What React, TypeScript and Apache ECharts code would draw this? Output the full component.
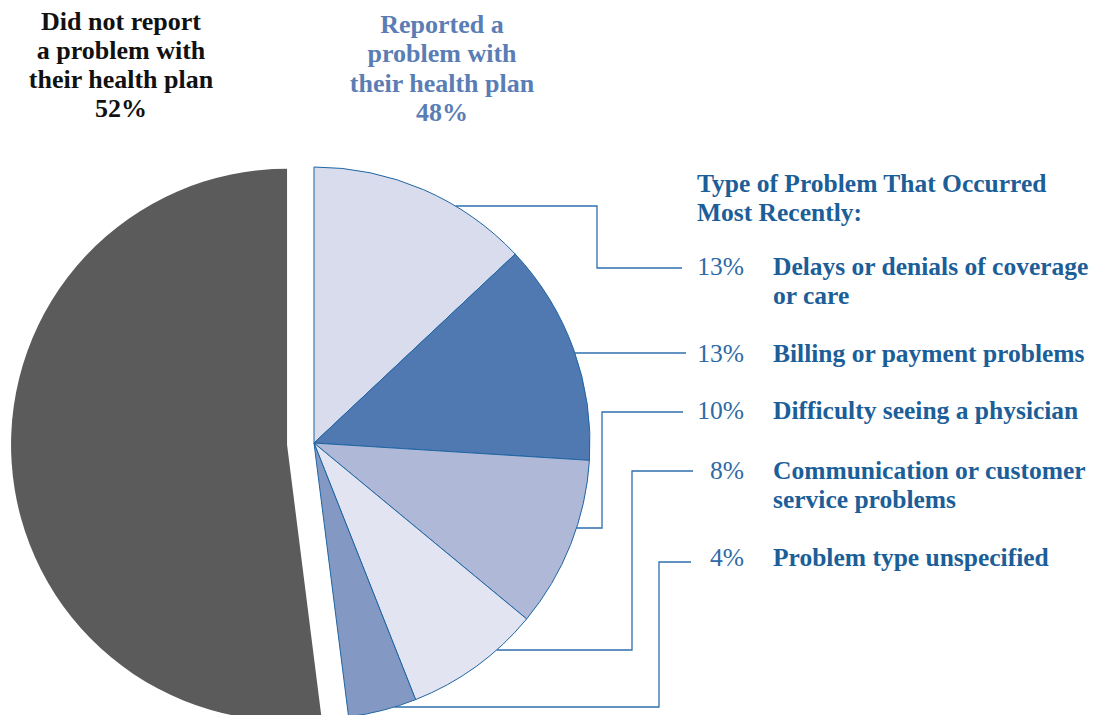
import React, { useEffect, useRef } from "react";
import * as echarts from "echarts";

// ---- data ----
const problemCategories = [
  "Delays or denials of coverage\nor care",
  "Billing or payment problems",
  "Difficulty seeing a physician",
  "Communication or customer\nservice problems",
  "Problem type unspecified",
];
const problemValues = [13, 13, 10, 8, 4];
const noProblemLabel = "Did not report\na problem with\ntheir health plan";
const noProblemValue = 52;
const problemLabel = "Reported a\nproblem with\ntheir health plan";
const problemTotal = 48;
const legendTitle = "Type of Problem That Occurred\nMost Recently:";

// ---- styles / layout ----
const sliceColors = ["#d9dcec", "#5079b1", "#afb8d7", "#e2e5f1", "#8399c3"];
const grayColor = "#5b5b5b";
const borderBlue = "#1f65a3";
const lineBlue = "#2f6fae";
const textBlue = "#1c5e98";
const pctBlue = "#2d6aa6";
const CX = 314, CY = 443, R = 276;
const FONT = "Liberation Serif";
// leader: y on pie edge, elbow x, label y, end x
const leaderLayout = [
  { y0: 206, xe: 597, y1: 268, x1: 682 },
  { y0: 353, xe: 597, y1: 353, x1: 686 },
  { y0: 528, xe: 602, y1: 412, x1: 683 },
  { y0: 650, xe: 632, y1: 471, x1: 693 },
  { y0: 707, xe: 659, y1: 562, x1: 691 },
];
const labelY = [266, 353.5, 410.5, 470, 557.5];

export default function App() {
  const ref = useRef<HTMLDivElement>(null);
  useEffect(() => {
    document.body.style.margin = "0";
    const chart = echarts.init(ref.current!, null, { renderer: "svg" });
    const data: any[] = problemValues.map((v, i) => ({
      name: problemCategories[i],
      value: v,
      itemStyle: { color: sliceColors[i], borderColor: borderBlue, borderWidth: 1 },
    }));
    data.push({
      name: "Did not report",
      value: noProblemValue,
      selected: true,
      itemStyle: { color: grayColor, borderWidth: 0 },
    });

    const graphics: any[] = [];
    const addText = (lines: string[], x: number, y: number, lh: number, align: string, fill: string, size: number, bold: boolean) => {
      lines.forEach((t, k) => {
        graphics.push({
          type: "text",
          x, y: y + k * lh,
          style: {
            text: t, fill, fontFamily: FONT, fontSize: size,
            fontWeight: bold ? "bold" : "normal", textAlign: align, textVerticalAlign: "middle",
          },
        });
      });
    };
    addText([...noProblemLabel.split("\n"), noProblemValue + "%"], 121, 21.5, 29, "center", "#111", 26, true);
    addText([...problemLabel.split("\n"), problemTotal + "%"], 442, 24.5, 29.3, "center", "#5a7db5", 26, true);
    addText(legendTitle.split("\n"), 697, 183.5, 28.5, "left", textBlue, 25.5, true);

    problemValues.forEach((v, i) => {
      const L = leaderLayout[i];
      const sx = CX + Math.sqrt(R * R - (L.y0 - CY) * (L.y0 - CY));
      const pts = L.y0 === L.y1
        ? [[sx, L.y0], [L.x1, L.y1]]
        : [[sx, L.y0], [L.xe, L.y0], [L.xe, L.y1], [L.x1, L.y1]];
      graphics.push({
        type: "polyline", silent: true, shape: { points: pts },
        style: { stroke: lineBlue, lineWidth: 1.3, fill: null },
      });
      addText([v + "%"], 744, labelY[i], 29, "right", pctBlue, 25.5, false);
      addText(problemCategories[i].split("\n"), 773, labelY[i], 29, "left", textBlue, 25.5, true);
    });

    chart.setOption({
      animation: false,
      series: [
        {
          type: "pie",
          center: [CX, CY],
          radius: R,
          startAngle: 90,
          clockwise: true,
          selectedMode: "single",
          selectedOffset: 27,
          silent: true,
          label: { show: false },
          labelLine: { show: false },
          emphasis: { disabled: true },
          data,
        },
      ],
      graphic: graphics,
    });
    return () => chart.dispose();
  }, []);
  return <div ref={ref} style={{ width: 1100, height: 715 }} />;
}
